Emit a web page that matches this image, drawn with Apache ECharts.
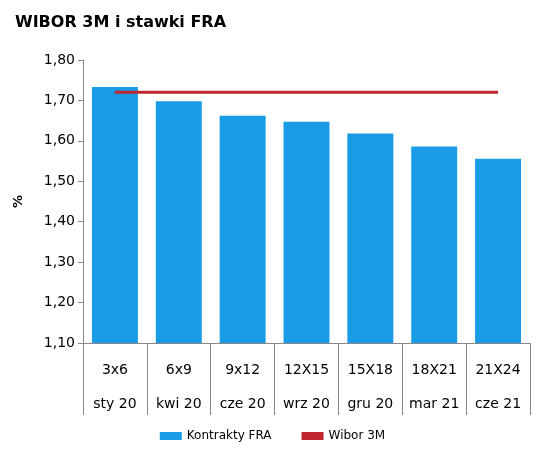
<!DOCTYPE html>
<html>
<head>
<meta charset="utf-8">
<script src="https://cdn.jsdelivr.net/npm/echarts@6/dist/echarts.min.js"></script>
<style>html,body{margin:0;padding:0;background:#fff}#chart{width:545px;height:455px}</style>
</head>
<body>
<div id="chart"></div>
<script>
var contracts = ['3x6', '6x9', '9x12', '12X15', '15X18', '18X21', '21X24'];
var months = ['sty 20', 'kwi 20', 'cze 20', 'wrz 20', 'gru 20', 'mar 21', 'cze 21'];
var fraValues = [1.733, 1.698, 1.662, 1.647, 1.618, 1.586, 1.556];
var wiborValues = [1.72, 1.72, 1.72, 1.72, 1.72, 1.72, 1.72];

var myChart = echarts.init(document.getElementById('chart'));
var font = 'DejaVu Sans';

var option = {
  animation: false,
  title: {
    text: 'WIBOR 3M i stawki FRA',
    left: 10, top: 10,
    textStyle: { fontFamily: font, fontSize: 16, fontWeight: 'bold', color: '#000' }
  },
  legend: {
    bottom: 8, left: 'center', itemGap: 30,
    textStyle: { fontFamily: font, fontSize: 12, color: '#000' },
    data: [
      { name: 'Kontrakty FRA', icon: 'rect', itemStyle: { color: '#1a9be6' } },
      { name: 'Wibor 3M', icon: 'rect' }
    ],
    itemWidth: 22, itemHeight: 8
  },
  grid: { left: 83, right: 15, top: 60, bottom: 112 },
  xAxis: {
    type: 'category',
    data: contracts.map(function (c, i) { return c + '\n' + months[i]; }),
    axisLine: { show: true, lineStyle: { color: '#888' } },
    axisTick: { show: true, alignWithLabel: false, interval: 0, length: 72, lineStyle: { color: '#888' } },
    axisLabel: {
      fontFamily: font, fontSize: 14, color: '#000', margin: 10,
      lineHeight: 34, interval: 0
    }
  },
  yAxis: {
    type: 'value', min: 1.1, max: 1.8, interval: 0.1,
    name: '%', nameLocation: 'middle', nameGap: 58, nameRotate: 90,
    nameTextStyle: { fontFamily: font, fontSize: 13, fontWeight: 'bold', color: '#000' },
    axisLine: { show: true, lineStyle: { color: '#888' } },
    axisTick: { show: true, lineStyle: { color: '#888' } },
    splitLine: { show: false },
    axisLabel: {
      fontFamily: font, fontSize: 14, color: '#000',
      formatter: function (v) { return v.toFixed(2).replace('.', ','); }
    }
  },
  series: [
    {
      name: 'Kontrakty FRA', type: 'bar', data: fraValues,
      barCategoryGap: '28%', itemStyle: { color: '#1a9be6' }
    },
    {
      name: 'Wibor 3M', type: 'line', data: wiborValues,
      showSymbol: false, symbol: 'none',
      lineStyle: { width: 3, color: '#c0262d' }, itemStyle: { color: '#c0262d' }
    }
  ]
};
myChart.setOption(option);
</script>
</body>
</html>
